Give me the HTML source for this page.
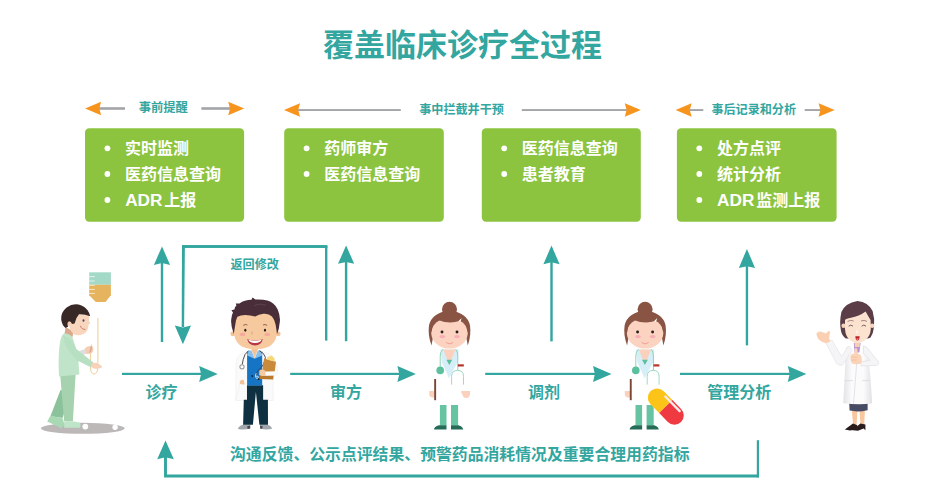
<!DOCTYPE html>
<html lang="zh"><head><meta charset="utf-8"><title>覆盖临床诊疗全过程</title>
<style>
html,body{margin:0;padding:0;background:#fff;font-family:"Liberation Sans",sans-serif}
body{width:945px;height:497px;overflow:hidden;position:relative}
svg{display:block;position:absolute;left:0;top:0}
svg text{font-family:"Liberation Sans","Noto Sans CJK SC",sans-serif;font-weight:bold}
.t{position:absolute;left:0;top:0;width:945px;height:497px;overflow:hidden}
.t span{position:absolute;white-space:nowrap;line-height:1.1;font-weight:bold;color:transparent;opacity:0;
font-family:"Liberation Sans",sans-serif;pointer-events:none}
</style></head><body>
<div class="t">
<span style="left:323px;top:26px;font-size:31px">覆盖临床诊疗全过程</span>
<span style="left:139px;top:100px;font-size:12px">事前提醒</span>
<span style="left:419px;top:102px;font-size:12px">事中拦截并干预</span>
<span style="left:711px;top:102px;font-size:12px">事后记录和分析</span>
<span style="left:230px;top:256px;font-size:12px">返回修改</span>
<span style="left:146px;top:383px;font-size:16px">诊疗</span>
<span style="left:330px;top:383px;font-size:16px">审方</span>
<span style="left:528px;top:383px;font-size:16px">调剂</span>
<span style="left:707px;top:383px;font-size:16px">管理分析</span>
<span style="left:230px;top:444px;font-size:16px">沟通反馈、公示点评结果、预警药品消耗情况及重要合理用药指标</span>
<span style="left:125.0px;top:139.3px;font-size:16px">• 实时监测</span>
<span style="left:125.0px;top:165.0px;font-size:16px">• 医药信息查询</span>
<span style="left:125.0px;top:191.0px;font-size:16px">• ADR上报</span>
<span style="left:324.2px;top:139.3px;font-size:16px">• 药师审方</span>
<span style="left:324.2px;top:165.0px;font-size:16px">• 医药信息查询</span>
<span style="left:521.8px;top:139.3px;font-size:16px">• 医药信息查询</span>
<span style="left:521.8px;top:165.0px;font-size:16px">• 患者教育</span>
<span style="left:716.9px;top:139.3px;font-size:16px">• 处方点评</span>
<span style="left:716.9px;top:165.0px;font-size:16px">• 统计分析</span>
<span style="left:716.9px;top:191.0px;font-size:16px">• ADR监测上报</span>
</div>
<svg width="945" height="497" viewBox="0 0 945 497">
<rect width="945" height="497" fill="#fff"/>
<text x="323" y="55.5" font-size="31" fill="#32a69f">覆盖临床诊疗全过程</text>
<rect x="99" y="107.2" width="26" height="2.6" fill="#a3a5a8"/>
<rect x="201.4" y="107.2" width="28.599999999999994" height="2.6" fill="#a3a5a8"/>
<path d="M85.1,108.5L101.1,101.8L99.3,108.5L101.1,115.2Z" fill="#f7941d"/>
<path d="M244.2,108.5L228.2,101.8L230.0,108.5L228.2,115.2Z" fill="#f7941d"/>
<rect x="298" y="109.1" width="102.80000000000001" height="1.9" fill="#a3a5a8"/>
<rect x="521.8" y="109.1" width="105.20000000000005" height="1.9" fill="#a3a5a8"/>
<path d="M284,110.05L300,103.35L298.2,110.05L300,116.75Z" fill="#f7941d"/>
<path d="M640.8,110.05L624.8,103.35L626.5999999999999,110.05L624.8,116.75Z" fill="#f7941d"/>
<rect x="690" y="109.1" width="13.299999999999955" height="1.9" fill="#a3a5a8"/>
<rect x="804.7" y="109.1" width="16.299999999999955" height="1.9" fill="#a3a5a8"/>
<path d="M675.6,110.05L691.6,103.35L689.8000000000001,110.05L691.6,116.75Z" fill="#f7941d"/>
<path d="M834.6,110.05L818.6,103.35L820.4,110.05L818.6,116.75Z" fill="#f7941d"/>
<text x="138.7" y="112.4" font-size="12.3" fill="#32a69f">事前提醒</text>
<text x="419.2" y="114" font-size="12.1" fill="#32a69f">事中拦截并干预</text>
<text x="711.4" y="114" font-size="12.1" fill="#32a69f">事后记录和分析</text>
<rect x="85.0" y="128.2" width="159.1" height="93.6" rx="4.2" fill="#8cc43f"/>
<circle cx="107.4" cy="148.3" r="2.9" fill="#fff"/>
<text x="125" y="154.4" font-size="16" fill="#fff">实时监测</text>
<circle cx="107.4" cy="174.0" r="2.9" fill="#fff"/>
<text x="125" y="180.1" font-size="16" fill="#fff">医药信息查询</text>
<circle cx="107.4" cy="200.0" r="2.9" fill="#fff"/>
<text x="125.2" y="206.1" font-size="17.2" fill="#fff">ADR</text>
<text x="164.3" y="206.1" font-size="16" fill="#fff">上报</text>
<rect x="284.2" y="128.2" width="159.6" height="93.6" rx="4.2" fill="#8cc43f"/>
<circle cx="306.6" cy="148.3" r="2.9" fill="#fff"/>
<text x="324.2" y="154.4" font-size="16" fill="#fff">药师审方</text>
<circle cx="306.6" cy="174.0" r="2.9" fill="#fff"/>
<text x="324.2" y="180.1" font-size="16" fill="#fff">医药信息查询</text>
<rect x="481.8" y="128.2" width="159.0" height="93.6" rx="4.2" fill="#8cc43f"/>
<circle cx="504.2" cy="148.3" r="2.9" fill="#fff"/>
<text x="521.8" y="154.4" font-size="16" fill="#fff">医药信息查询</text>
<circle cx="504.2" cy="174.0" r="2.9" fill="#fff"/>
<text x="521.8" y="180.1" font-size="16" fill="#fff">患者教育</text>
<rect x="676.9" y="128.2" width="159.7" height="93.6" rx="4.2" fill="#8cc43f"/>
<circle cx="699.3" cy="148.3" r="2.9" fill="#fff"/>
<text x="716.9" y="154.4" font-size="16" fill="#fff">处方点评</text>
<circle cx="699.3" cy="174.0" r="2.9" fill="#fff"/>
<text x="716.9" y="180.1" font-size="16" fill="#fff">统计分析</text>
<circle cx="699.3" cy="200.0" r="2.9" fill="#fff"/>
<text x="717.1" y="206.1" font-size="17.2" fill="#fff">ADR</text>
<text x="756.2" y="206.1" font-size="16" fill="#fff">监测上报</text>
<rect x="160.8" y="262.6" width="2.4" height="79.39999999999998" fill="#32a69f"/>
<path d="M162.0,246.4L170.1,265.0L162.0,263.1L153.9,265.0Z" fill="#32a69f"/>
<rect x="344.90000000000003" y="261.40000000000003" width="2.4" height="79.79999999999995" fill="#32a69f"/>
<path d="M346.1,245.6L354.20000000000005,263.8L346.1,261.90000000000003L338.0,263.8Z" fill="#32a69f"/>
<rect x="550.3" y="261.8" width="2.4" height="79.59999999999997" fill="#32a69f"/>
<path d="M551.5,245.6L559.6,264.2L551.5,262.3L543.4,264.2Z" fill="#32a69f"/>
<rect x="745.75" y="265.70000000000005" width="2.4" height="79.69999999999993" fill="#32a69f"/>
<path d="M746.95,248.9L755.0500000000001,268.1L746.95,266.20000000000005L738.85,268.1Z" fill="#32a69f"/>
<rect x="182" y="245.05" width="145.4" height="2.9" fill="#32a69f"/>
<rect x="325" y="246" width="2.4" height="94.6" fill="#32a69f"/>
<path d="M182,245.05H184.9L184.1,327H181.7Z" fill="#32a69f"/>
<path d="M182.9,344.2L174.8,325.5L182.9,327.4L191,325.5Z" fill="#32a69f"/>
<rect x="122.0" y="372.79999999999995" width="79.6" height="2.2" fill="#32a69f"/>
<path d="M217.7,373.9L199.2,365.9L201.1,373.9L199.2,381.9Z" fill="#32a69f"/>
<rect x="290.2" y="372.79999999999995" width="109.59999999999997" height="2.2" fill="#32a69f"/>
<path d="M415.9,373.9L397.4,365.9L399.29999999999995,373.9L397.4,381.9Z" fill="#32a69f"/>
<rect x="485.2" y="372.79999999999995" width="110.19999999999999" height="2.2" fill="#32a69f"/>
<path d="M611.5,373.9L593.0,365.9L594.9,373.9L593.0,381.9Z" fill="#32a69f"/>
<rect x="680.0" y="372.79999999999995" width="110.19999999999993" height="2.2" fill="#32a69f"/>
<path d="M806.3,373.9L787.8,365.9L789.6999999999999,373.9L787.8,381.9Z" fill="#32a69f"/>
<path d="M759,476 H165.5 V457" fill="none" stroke="#32a69f" stroke-width="2.9" stroke-linejoin="miter"/>
<rect x="756.8" y="440.2" width="2.2" height="37.19999999999999" fill="#32a69f"/>
<path d="M165.5,440.4L173.8,459.2L165.5,457.2L157.2,459.2Z" fill="#32a69f"/>
<text x="230.5" y="268.5" font-size="12.1" fill="#32a69f">返回修改</text>
<text x="145.6" y="398.4" font-size="16" fill="#32a69f">诊疗</text>
<text x="330" y="398.4" font-size="16" fill="#32a69f">审方</text>
<text x="528" y="398.4" font-size="16" fill="#32a69f">调剂</text>
<text x="707.3" y="398.4" font-size="16" fill="#32a69f">管理分析</text>
<text x="230" y="460" font-size="15.85" fill="#32a69f">沟通反馈、公示点评结果、预警药品消耗情况及重要合理用药指标</text>

<g id="patient">
<ellipse cx="82.8" cy="428.3" rx="42" ry="5.5" fill="#bcb8b8"/>
<circle cx="85.3" cy="426.6" r="2.9" fill="#fff"/>
<circle cx="115.1" cy="427.2" r="2.7" fill="#fff"/>
<!-- iv bag -->
<path d="M89.2,272.3H110.9V284.8H89.2Z" fill="#a4d9c8"/>
<path d="M89.2,284.8H110.9V295.3L105.5,302H95.8L89.2,295.3Z" fill="#e6b45e"/>
<path d="M89.2,276.6h5.6M89.2,281h5.6M89.2,285.3h5.6M89.2,289.4h5.6M89.2,293.4h5.6" stroke="#fff" stroke-width="0.9" opacity=".75"/>
<!-- tube -->
<path d="M97.9,318V363" stroke="#f3d6ab" stroke-width="1.3" fill="none"/>
<path d="M91.4,344.5C90.2,352 90.2,362 90.6,369C91,375.5 97,376 97.6,369L97.8,366" stroke="#efcf9c" stroke-width="1" fill="none"/>
<!-- back leg -->
<path d="M60.5,390L71,392L62.5,418L50.4,416.3Z" fill="#8cc29b"/>
<path d="M50.6,415.4L62.8,418.6L64.4,424.5L61.5,428.2L47.2,421.6Z" fill="#a9d8b5"/>
<!-- front leg -->
<path d="M60.2,375L75.6,374L72.9,421.3H64.2Z" fill="#a6d2af"/>
<path d="M64.2,421.2H72.9L79.6,422.6Q81.2,425 80.2,427.8H64.2Z" fill="#bfe5c9"/>
<!-- back arm hand + cuff -->
<path d="M78.4,351.2L84.9,349.2L86.6,353.8L80.6,356Z" fill="#dedee1"/>
<path d="M84.6,348.4Q88,345.4 92.6,346.2Q94.2,348.6 92.8,352.2Q89,354.6 86,353.6Z" fill="#f5cdb2"/>
<path d="M89.5,352.5Q91.5,350 91.2,346.5" stroke="#c9a08a" stroke-width="1.2" fill="none"/>
<!-- neck -->
<path d="M65.6,327L73.5,331.5L72.4,337.2L64.4,334.4Z" fill="#d9a88c"/>
<!-- torso -->
<path d="M64.2,333.2Q70,334 72.4,337L76.2,349L78.4,361L79.4,374.6L59,376.4Q57.8,355 60.2,341Q61.4,335 64.2,333.2Z" fill="#c0e4c9"/>
<path d="M63.6,336Q67.5,343 73.8,352.5L77.6,361" stroke="#a9d6b5" stroke-width="0.9" fill="none"/>
<!-- front arm -->
<path d="M66.5,336.5Q70,337.5 72,341L76.6,349.2L93.4,362.6L91.2,367.4L77.2,360.4Q69,353 64.4,343Q63.6,338 66.5,336.5Z" fill="#b7e0c2"/>
<path d="M92,363.2Q96.5,362.2 99.5,364.2L102.2,366.4Q101.8,368.2 98.6,368.4Q95,369.6 91.4,367.2Z" fill="#f8d2b8"/>
<!-- head -->
<circle cx="69" cy="323" r="2.7" fill="#f2c7ad"/>
<path d="M72.4,313.5L88.8,315.2Q89.4,318.6 89,320.4L90.2,323.2Q89.8,324.2 88.6,324.2Q88.6,330.4 84.4,333.6Q79.4,336.6 74.6,334.4Q69.8,331.6 69,325Z" fill="#f8d5bd"/>
<path d="M90.2,316.2Q88.5,308.5 81.5,305.4Q73.4,302.6 66.6,307.4Q60.6,312.4 61.2,319.4Q62,325.2 65.6,328L68.2,326.4Q66.4,323.4 68.6,321.4Q71,321 72,324L74.6,323.4Q76,317.4 79,314.2Q84.6,314 90.2,316.2Z" fill="#382926"/>
<ellipse cx="83.5" cy="320.4" rx="0.95" ry="1.25" fill="#3c4a5e"/>
<path d="M80.4,325.8Q81.6,329.6 85.4,329.4" stroke="#b7564f" stroke-width="0.7" fill="none"/>
</g>

<g id="doctor">
<!-- coat -->
<path d="M248.2,350.8L240.2,354.4Q236.4,357 236,363L235.8,400.5H247V385.5H263.1V400.5H273.2L273,376L277.6,374.4L277,366Q274,356.4 269.6,354L259.6,350.8Z" fill="#fafafa" stroke="#ededed" stroke-width="0.6"/>
<path d="M240.6,381L236,400.3" stroke="#ececec" stroke-width="0.6" fill="none"/>
<!-- shoes -->
<path d="M243.6,424.4H250.2V428.6Q244,430.4 238,429Q237.6,426.6 243.6,424.4Z" fill="#a2a6ad"/>
<path d="M260,424.4H267.2Q272,426.4 272,428.8Q266,430.4 260.2,428.6Z" fill="#a2a6ad"/>
<path d="M247.2,426.2L250.2,425.4V428.6L247.6,429Z" fill="#4a4a50"/>
<path d="M260.1,425.4L262.6,426.2L262.2,429L260.1,428.6Z" fill="#4a4a50"/>
<!-- pants -->
<path d="M247,385.3H263.1V399.8H267.9L268,424.8H259.4L255.9,392L252.9,424.8H243.1L243.8,399.8H247Z" fill="#0f3040"/>
<!-- shirt -->
<path d="M247.1,351.4L254.7,358.6L262.2,351.4V385.6H247.1Z" fill="#1674c5"/>
<path d="M248.2,350.4L251.4,350.4L254.7,358.8L247.1,355.4Z" fill="#86bfec"/>
<path d="M261,350.4L257.8,350.4L254.7,358.8L262.2,355.4Z" fill="#86bfec"/>
<path d="M251.2,349L258,349L254.7,358Z" fill="#f3c296"/>
<!-- stethoscope -->
<path d="M248.4,350.8Q244.2,353.8 243.2,359.6L242.2,364.6" stroke="#3d3d42" stroke-width="0.9" fill="none"/>
<circle cx="242" cy="366.8" r="2.1" fill="#fff" stroke="#9b9ba0" stroke-width="1.1"/>
<path d="M259.4,350.8Q264.2,352.8 265.4,357.4Q264.6,365 259,369.6Q256.6,372 256.2,375" stroke="#3d3d42" stroke-width="0.9" fill="none"/>
<!-- clipboard -->
<path d="M264,358.5L276,361.8L274.6,372.4L262.2,372Z" fill="#c98a3c"/>
<path d="M267.2,357.2L271.4,355.4L274.6,358.2L274.2,361.4L267,359.6Z" fill="#f6d877"/>
<path d="M259.8,375.4L273.6,375.6L273.2,379.6L259.6,379Z" fill="#b97a30"/>
<path d="M265,371.6L277.6,371.2L277.4,375L265.4,375.8Z" fill="#fafafa"/>
<path d="M259.4,370.6Q262,368.6 265,370.4L265.6,375.4Q262,376.6 259.2,375Z" fill="#f6c9a0"/>
<path d="M256.2,373.2Q254.4,376.4 256.4,378.4Q258.6,379 258.4,376.6Q257,375.8 255.6,376.4" stroke="#c3e2f6" stroke-width="0.9" fill="none"/>
<circle cx="252.2" cy="376" r="0.9" fill="#222"/>
<circle cx="258.6" cy="379.2" r="0.9" fill="#222"/>
<!-- left hand -->
<path d="M240,381.2Q241.6,379.2 243.8,380.2L244.6,384.2Q242,384.8 239.8,383.8Z" fill="#f3c29a"/>
<!-- head -->
<circle cx="232.8" cy="333.8" r="2.4" fill="#f3c094"/>
<circle cx="278.2" cy="333.8" r="2.4" fill="#f3c094"/>
<path d="M234,318Q234,309 255.5,309Q277,309 277,318V331Q277,349.2 255.5,349.2Q234,349.2 234,331Z" fill="#f7c99f"/>
<path d="M233.8,334Q230.6,326 231.2,319.4Q231.6,314.6 233,312.4L231.4,310.2L234.4,309.4Q234.6,307 236.4,305.4L235.8,303.6L239.4,303.4Q244.6,300 251.4,299.8L252.6,297.4L255.4,299.6Q262,299.2 267.4,300.6Q274.4,302.8 277.6,309.2Q280.6,316 279.8,322Q279.2,329 277,334.2Q276.2,328 275.6,324.6Q274.4,319.4 272,316.6Q268.6,313.2 263.4,313.8Q258.6,314.4 255.2,316.6Q250.2,315 245.2,315Q240.6,315 237.4,316.8Q235.6,320 235.2,325Q234.4,330 233.8,334Z" fill="#492e39"/>
<path d="M254,305.6Q260,302.8 266,305.2" stroke="#6a4a55" stroke-width="0.7" fill="none"/>
<ellipse cx="245.3" cy="330.3" rx="1.05" ry="1.45" fill="#2a1c20"/>
<ellipse cx="265" cy="330.3" rx="1.05" ry="1.45" fill="#2a1c20"/>
<path d="M243.2,325.4Q245.2,323.8 247.4,325" stroke="#5a3b40" stroke-width="0.7" fill="none"/>
<path d="M263,325Q265.2,323.8 267.2,325.4" stroke="#5a3b40" stroke-width="0.7" fill="none"/>
<ellipse cx="242.6" cy="334.4" rx="2.9" ry="1.7" fill="#f4a39c" opacity=".85"/>
<ellipse cx="267.4" cy="334.4" rx="2.9" ry="1.7" fill="#f4a39c" opacity=".85"/>
<path d="M252.4,331.4Q251,333.6 252.4,334.6" stroke="#c58c6c" stroke-width="0.6" fill="none"/>
<path d="M247.2,339Q255,342 262.8,339Q261.6,345.4 255,345.4Q248.4,345.4 247.2,339Z" fill="#b53a48"/>
<path d="M248.2,339.5Q255,342.2 261.8,339.5Q260.6,342.8 255,343Q249.4,342.8 248.2,339.5Z" fill="#fff"/>
</g>

<g id="nurse">
<!-- legs -->
<rect x="439.9" y="405" width="6.6" height="20.4" fill="#67c4a3"/>
<rect x="451" y="405" width="7.1" height="20.4" fill="#67c4a3"/>
<path d="M439,425.2H446.5V429.6H434Q434,426.6 439,425.2Z" fill="#246b58"/>
<path d="M451,425.2H458.4Q463,426.6 463.2,429.6H451Z" fill="#246b58"/>
<!-- hands -->
<path d="M429.2,391H434.4V397.4H432Q429.2,397 429.2,394Z" fill="#fbd1be"/>
<path d="M461.4,391H470V394.4Q469.4,398 465.6,398Q462.6,397.6 462.4,394L461.4,393.6Z" fill="#fbd1be"/>
<rect x="434.2" y="379" width="1.9" height="21.2" fill="#7a4636"/>
<!-- collar / neck -->
<path d="M440.4,349.6L458.8,349.6L457.6,362L449,378.6L441.8,362Z" fill="#d5eef7"/>
<path d="M443.2,349.6H455.4L449.3,364.8Z" fill="#fbd1be"/>
<path d="M446.4,359.8H452.2L449.3,365Z" fill="#5cbf9e"/>
<!-- stethoscope -->
<path d="M443,349.2Q440.2,351.6 440.2,356V366.8" stroke="#8fd3b9" stroke-width="1" fill="none"/>
<circle cx="440.2" cy="370.4" r="3.8" fill="#5cbf9e"/>
<path d="M455.6,349.2Q457.8,351.6 457.8,356V370" stroke="#8fd3b9" stroke-width="1" fill="none"/>
<path d="M451.6,384.6V376.4Q451.6,370.4 457.6,370.4Q463.5,370.4 463.5,376.4V384.6" stroke="#9fdac4" stroke-width="1" fill="none"/>
<rect x="457.8" y="364.3" width="6" height="2.2" fill="#b5352c"/>
<!-- head -->
<circle cx="449.5" cy="309.2" r="7.5" fill="#8a5444"/>
<path d="M431.5,345.6Q427.6,335 429,325.6Q431.4,312.6 449.5,310.4Q467.6,312.6 470,325.6Q471.4,335 467.8,345.6Q466.6,338 465,332Q441,330 434.4,332Q432.6,338 431.5,345.6Z" fill="#8a5444"/>
<ellipse cx="449.5" cy="333.2" rx="18.2" ry="15.4" fill="#fbd3c0"/>
<path d="M431.6,332Q432.4,323 436.6,319.4Q449,324.6 459.4,321L462,318.4L460.8,321.6Q463.6,320.6 463.6,320.6Q466.8,325.4 467.5,332Q468.6,330 468.6,326Q466.4,314 449.5,313Q432.6,314 430.4,326Q430.4,330 431.6,332Z" fill="#8a5444"/>
<path d="M458.2,321.6L461.6,318L460.6,321.4Z" fill="#fff"/>
<circle cx="442" cy="332" r="1.45" fill="#2b1d1d"/>
<circle cx="457" cy="332" r="1.45" fill="#2b1d1d"/>
<ellipse cx="442.4" cy="336.6" rx="2.9" ry="1.6" fill="#f7a9b4" opacity=".9"/>
<ellipse cx="457" cy="336.6" rx="2.9" ry="1.6" fill="#f7a9b4" opacity=".9"/>
<path d="M446,342.2Q449.5,345.4 453,342.2" stroke="#ee8f8a" stroke-width="0.8" fill="none"/>
</g>

<g id="nurse2" transform="translate(195.6,0)">
<!-- legs -->
<rect x="439.9" y="405" width="6.6" height="20.4" fill="#67c4a3"/>
<rect x="451" y="405" width="7.1" height="20.4" fill="#67c4a3"/>
<path d="M439,425.2H446.5V429.6H434Q434,426.6 439,425.2Z" fill="#246b58"/>
<path d="M451,425.2H458.4Q463,426.6 463.2,429.6H451Z" fill="#246b58"/>
<!-- hands -->
<path d="M429.2,391H434.4V397.4H432Q429.2,397 429.2,394Z" fill="#fbd1be"/>
<rect x="434.2" y="379" width="1.9" height="21.2" fill="#7a4636"/>
<!-- collar / neck -->
<path d="M440.4,349.6L458.8,349.6L457.6,362L449,378.6L441.8,362Z" fill="#d5eef7"/>
<path d="M443.2,349.6H455.4L449.3,364.8Z" fill="#fbd1be"/>
<path d="M446.4,359.8H452.2L449.3,365Z" fill="#5cbf9e"/>
<!-- stethoscope -->
<path d="M443,349.2Q440.2,351.6 440.2,356V366.8" stroke="#8fd3b9" stroke-width="1" fill="none"/>
<circle cx="440.2" cy="370.4" r="3.8" fill="#5cbf9e"/>
<path d="M455.6,349.2Q457.8,351.6 457.8,356V370" stroke="#8fd3b9" stroke-width="1" fill="none"/>
<path d="M451.6,384.6V376.4Q451.6,370.4 457.6,370.4Q463.5,370.4 463.5,376.4V384.6" stroke="#9fdac4" stroke-width="1" fill="none"/>
<rect x="457.8" y="364.3" width="6" height="2.2" fill="#b5352c"/>
<!-- head -->
<circle cx="449.5" cy="309.2" r="7.5" fill="#8a5444"/>
<path d="M431.5,345.6Q427.6,335 429,325.6Q431.4,312.6 449.5,310.4Q467.6,312.6 470,325.6Q471.4,335 467.8,345.6Q466.6,338 465,332Q441,330 434.4,332Q432.6,338 431.5,345.6Z" fill="#8a5444"/>
<ellipse cx="449.5" cy="333.2" rx="18.2" ry="15.4" fill="#fbd3c0"/>
<path d="M431.6,332Q432.4,323 436.6,319.4Q449,324.6 459.4,321L462,318.4L460.8,321.6Q463.6,320.6 463.6,320.6Q466.8,325.4 467.5,332Q468.6,330 468.6,326Q466.4,314 449.5,313Q432.6,314 430.4,326Q430.4,330 431.6,332Z" fill="#8a5444"/>
<path d="M458.2,321.6L461.6,318L460.6,321.4Z" fill="#fff"/>
<circle cx="442" cy="332" r="1.45" fill="#2b1d1d"/>
<circle cx="457" cy="332" r="1.45" fill="#2b1d1d"/>
<ellipse cx="442.4" cy="336.6" rx="2.9" ry="1.6" fill="#f7a9b4" opacity=".9"/>
<ellipse cx="457" cy="336.6" rx="2.9" ry="1.6" fill="#f7a9b4" opacity=".9"/>
<path d="M446,342.2Q449.5,345.4 453,342.2" stroke="#ee8f8a" stroke-width="0.8" fill="none"/>
</g>

<g id="capsule" transform="translate(665.8,406.6) rotate(45.5)">
<path d="M0,-9.3H-12.4A9.3,9.3 0 0 0 -12.4,9.3H0Z" fill="#fcc419"/>
<path d="M0,-9.3H12.4A9.3,9.3 0 0 1 12.4,9.3H0Z" fill="#ee3a40"/>
<path d="M-7.6,-6.7H13" stroke="#fde9ec" stroke-width="2.3" stroke-linecap="round" fill="none"/>
</g>

<g id="manager">
<defs>
<linearGradient id="coatg" x1="0" x2="1" y1="0" y2="0">
<stop offset="0" stop-color="#e3e3e7"/><stop offset=".3" stop-color="#fbfbfc"/><stop offset=".7" stop-color="#fbfbfc"/><stop offset="1" stop-color="#e1e1e5"/>
</linearGradient>
</defs>
<!-- legs -->
<path d="M851.8,410.5H857.4L856.6,425H853.2Z" fill="#f8c79e"/>
<path d="M859.4,410.5H864.9L864.2,425H860.6Z" fill="#f8c79e"/>
<!-- shoes -->
<path d="M844.8,429.6L853,423.4L857.4,425.2L856.4,429.6L850,430.6Z" fill="#2a1b1c"/>
<path d="M852.6,430.2L860.4,423.6L865.4,424.6V430.2L863.6,428.4L858,430.8Z" fill="#2a1b1c"/>
<!-- skirt -->
<path d="M849.2,402.6H867.6V410.2Q858,412.4 849.6,410.6Z" fill="#474c64"/>
<!-- coat body -->
<path d="M850.4,345.4L846,347.4Q845,372 843.2,403.2Q857,405.2 872.2,403.6Q870.4,372 867.6,350L862.6,345.4L858.2,363Z" fill="url(#coatg)"/>
<path d="M856.6,364L853.6,403.8" stroke="#d9d9de" stroke-width="0.7" fill="none"/>
<path d="M844.4,380.6H853M862,380.6H869.4" stroke="#d5d5da" stroke-width="0.7" fill="none"/>
<!-- raised arm -->
<path d="M825.6,342.4L831.8,340L841.6,356.4L848,346.4L852,350.4L842.8,364.8Q839.4,366.8 836.4,363.2Z" fill="#f5f5f7" stroke="#e0e0e5" stroke-width="0.6"/>
<!-- right arm (bent) -->
<path d="M863.4,345.8Q868,347 869.6,351L878.4,361.6Q879.6,364.6 876.4,365.4L861.4,366L860.8,361.8L870.4,360.4L863.6,353.6Z" fill="#f5f5f7" stroke="#dcdce1" stroke-width="0.6"/>
<!-- purple shirt + neck -->
<path d="M853.8,343H860.6L859.4,352.4H854.4Z" fill="#b793d4"/>
<path d="M854.4,341.6H860.2L859.6,347H855Z" fill="#f6cfb2"/>
<!-- thumb hand -->
<path d="M854.6,348.6Q855.8,347.4 857.2,348.4L857.8,353.6Q861,354.4 861.6,357.4Q862.4,361.4 860.6,363.8Q856,365 851.6,363.2Q849.8,359.6 850.6,355.6Q852,353.4 854.4,353.4Z" fill="#fbd3b6"/>
<path d="M851.4,357.2H857M851.2,360H856.6" stroke="#eab999" stroke-width="0.6" fill="none"/>
<!-- raised hand -->
<path d="M816.4,333.6Q817.6,331.4 820.6,331.6L826,333.6L828.4,331Q829.8,330.6 830,332.4L829.2,337.4L830,341.6L826.6,343.2Q821.4,342.2 818.6,339.4Q816.4,336.6 816.4,333.6Z" fill="#fbd0b2"/>
<!-- head -->
<path d="M845.8,338.4Q842,336 841,331Q839.2,322 841.4,312Q845,303 857.4,300.9Q868.5,302 872.6,311Q875,319 874,327Q873.4,333 870.6,337.6L868,338.4Z" fill="#5b3d47"/>
<circle cx="843.6" cy="325.8" r="2.2" fill="#f6d2bc"/>
<circle cx="872.2" cy="325.8" r="2.2" fill="#f6d2bc"/>
<path d="M845,320Q846,318.6 851,317.8Q859,316.6 865.6,311.6Q868,316 870.6,320L870.8,329Q870.4,336.5 864.6,340.6Q857.4,345.4 850.4,340.6Q845.4,336.5 845,329Z" fill="#fce3cf"/>
<path d="M848.6,326.2Q850.8,324 853,326.2" stroke="#3b2a2c" stroke-width="0.7" fill="none"/>
<path d="M861.6,326.2Q863.8,324 866,326.2" stroke="#3b2a2c" stroke-width="0.7" fill="none"/>
<path d="M847.6,321.4Q850.6,319.6 853.6,321M861,321Q864,319.6 867,321.4" stroke="#6b4a50" stroke-width="0.6" fill="none"/>
<path d="M856.6,329L856.2,333.4L858.2,333.6Z" fill="#fff" opacity=".8"/>
<path d="M855.4,336.2H859.6Q859.6,340.4 857.4,340.6Q855.4,340.2 855.4,336.2Z" fill="#b8232a"/>
<path d="M856.4,338.6Q857.4,337.8 858.6,338.6Q858.4,340.4 857.4,340.6Q856.6,340.2 856.4,338.6Z" fill="#f0788a"/>
</g>

</svg>
</body></html>
